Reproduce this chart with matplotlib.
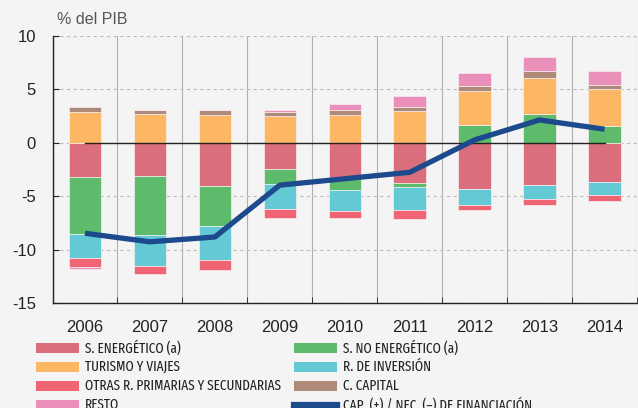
import numpy as np
import matplotlib
matplotlib.use("Agg")
import matplotlib.pyplot as plt
from matplotlib.patches import Rectangle
from matplotlib.lines import Line2D
from matplotlib import font_manager

years = ["2006", "2007", "2008", "2009", "2010", "2011", "2012", "2013", "2014"]

energetico = [-3.2, -3.1, -4.0, -2.45, -3.3, -3.75, -4.35, -3.9, -3.65]
no_energetico = [-5.35, -5.5, -3.8, -1.4, -1.1, -0.35, 1.7, 2.75, 1.6]
turismo = [2.85, 2.7, 2.6, 2.55, 2.6, 3.0, 3.2, 3.3, 3.4]
inversion = [-2.2, -2.9, -3.15, -2.35, -1.95, -2.2, -1.45, -1.3, -1.2]
otras = [-0.85, -0.8, -0.95, -0.8, -0.7, -0.8, -0.45, -0.6, -0.6]
capital = [0.55, 0.4, 0.45, 0.35, 0.45, 0.35, 0.45, 0.65, 0.4]
resto = [-0.2, 0.0, 0.0, 0.2, 0.55, 1.0, 1.15, 1.3, 1.3]
cap_nec = [-8.45, -9.25, -8.8, -3.95, -3.35, -2.75, 0.28, 2.15, 1.28]

series = [
    ("S. ENERGÉTICO (a)", energetico, "#db6e7d"),
    ("S. NO ENERGÉTICO (a)", no_energetico, "#5dbb6b"),
    ("TURISMO Y VIAJES", turismo, "#fdb663"),
    ("R. DE INVERSIÓN", inversion, "#63c9d4"),
    ("OTRAS R. PRIMARIAS Y SECUNDARIAS", otras, "#f06574"),
    ("C. CAPITAL", capital, "#b08a78"),
    ("RESTO", resto, "#ea8fba"),
]
line_label = "CAP. (+) / NEC. (–) DE FINANCIACIÓN"
line_color = "#1c4a8d"

installed = {f.name for f in font_manager.fontManager.ttflist}
base_font = "Liberation Sans" if "Liberation Sans" in installed else "DejaVu Sans"
narrow_font, narrow_size = base_font, 8
for cand, size in [("Fira Sans Extra Condensed", 10.3), ("Roboto Condensed", 9.5),
                   ("Archivo Narrow", 9.5)]:
    if cand in installed:
        narrow_font, narrow_size = cand, size
        break
plt.rcParams["font.family"] = [base_font, "DejaVu Sans"]
plt.rcParams["axes.unicode_minus"] = False

W, H = 638, 408
fig = plt.figure(figsize=(W / 100, H / 100), dpi=100, facecolor="#f4f4f4")
ax = fig.add_axes([52.5 / W, 1 - 303.3 / H, (637 - 52.5) / W, (303.3 - 36) / H])
ax.set_facecolor("#f4f4f4")

x = np.arange(len(years))
pos_bottom = np.zeros(len(years))
neg_bottom = np.zeros(len(years))
for label, vals, color in series:
    v = np.array(vals)
    bottom = np.where(v >= 0, pos_bottom, neg_bottom)
    ax.bar(x, v, 0.5, bottom=bottom, color=color, edgecolor="#f7eef0",
           linewidth=0.5, zorder=2)
    pos_bottom += np.where(v >= 0, v, 0)
    neg_bottom += np.where(v < 0, v, 0)

ax.plot([x[0], x[-1]], [0, 0], color="#222222", lw=1.0, zorder=3)
ax.plot(x, cap_nec, color=line_color, lw=3.8, zorder=4, solid_capstyle="butt")

ax.set_xlim(-0.5, len(years) - 0.5)
ax.set_ylim(-15, 10)
ax.set_yticks([-15, -10, -5, 0, 5, 10])
ax.set_xticks(x)
ax.set_xticklabels(years)
ax.set_xticks(np.arange(-0.5, len(years)), minor=True)

ax.set_axisbelow(True)
ax.yaxis.grid(True, color="#bbbbbb", lw=0.8, linestyle=(0, (3, 3)))
ax.xaxis.grid(True, which="minor", color="#b0b0b0", lw=0.8)
ax.xaxis.grid(False, which="major")

ax.tick_params(axis="x", which="major", length=0, pad=12, labelsize=12, colors="#222222")
ax.tick_params(axis="x", which="minor", direction="in", length=4, color="#222222")
ax.tick_params(axis="y", direction="in", length=4, pad=12, labelsize=12, colors="#222222")
for s in ["top", "right"]:
    ax.spines[s].set_visible(False)
for s in ["left", "bottom"]:
    ax.spines[s].set_color("#222222")
    ax.spines[s].set_linewidth(1.0)

fig.text(57 / W, 1 - 19 / H, "% del PIB", fontsize=11.5, color="#555555", va="center")

# legend, two columns
rows_y = [348, 367, 386, 405]
col_x = [36, 294]
entries = [(lab, col, "patch") for lab, _, col in series]
order = [0, 2, 4, 6, 1, 3, 5]
slots = [(0, 0), (0, 1), (0, 2), (0, 3), (1, 0), (1, 1), (1, 2)]
items = [entries[i] for i in order] + [(line_label, line_color, "line")]
slots = slots + [(1, 3)]
for (lab, col, kind), (c, r) in zip(items, slots):
    px, py = col_x[c], rows_y[r]
    if kind == "patch":
        fig.add_artist(Rectangle((px / W, 1 - (py + 5) / H), 43 / W, 10 / H,
                                 transform=fig.transFigure, color=col, lw=0))
    else:
        fig.add_artist(Line2D([px / W, (px + 43) / W], [1 - py / H] * 2,
                              transform=fig.transFigure, color=col, lw=4.5))
    fig.text((px + 49) / W, 1 - py / H, lab, fontsize=narrow_size, color="#222222",
             va="center", family=[narrow_font, "DejaVu Sans"])

fig.savefig("out.png", dpi=100, facecolor=fig.get_facecolor())
